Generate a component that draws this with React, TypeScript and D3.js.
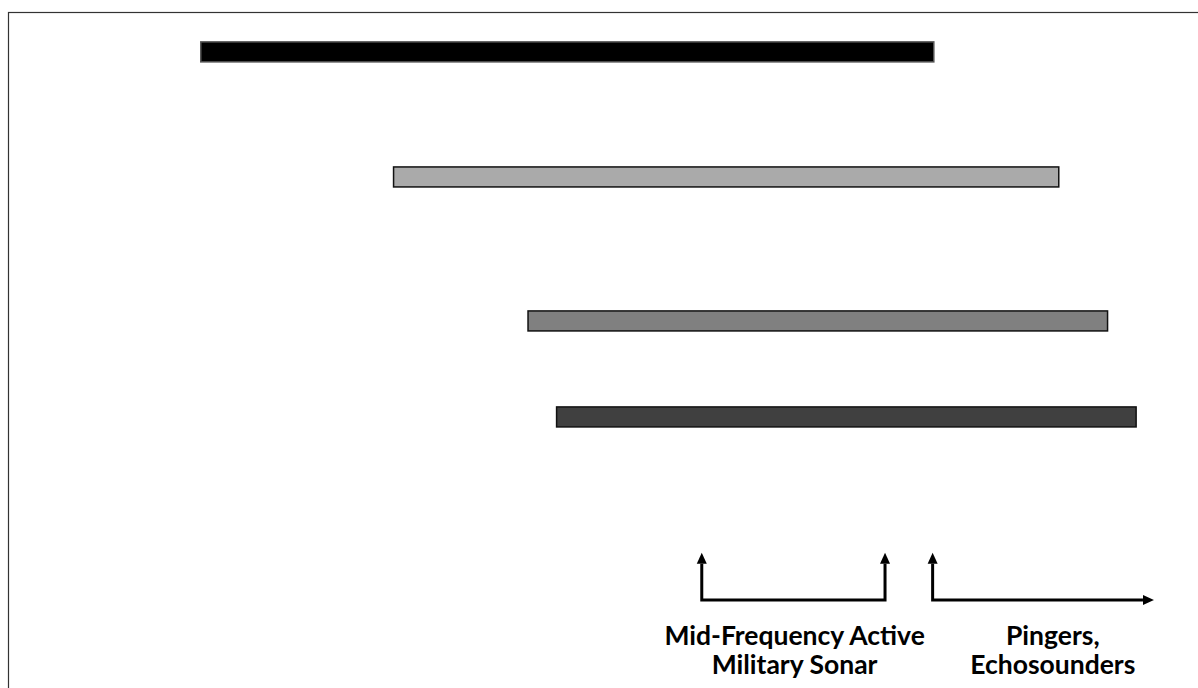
import React from "react";
import * as d3 from "d3";

const W = 1198;
const H = 688;

// Ranges (relative position units on a 0-100 frequency axis)
const bandNames = ["Band A", "Band B", "Band C", "Band D"];
const bandStart = [16.2, 32.4, 43.7, 46.1];
const bandEnd = [77.8, 88.3, 92.4, 94.8];
const bandRow = [5.9, 24.4, 45.7, 59.9];
const bandFill = ["#000000", "#aaaaaa", "#808080", "#404040"];
const bandStroke = ["#555555", "#111111", "#111111", "#111111"];

// Sound source brackets
const sourceNames = ["Mid-Frequency Active|Military Sonar", "Pingers,|Echosounders"];
const sourceStart = [58.3, 77.7];
const sourceEnd = [73.7, 96.3];
const sourceLabelPos = [66.1, 87.8];
const sourceEndArrow = ["up", "right"];
const bracketBase = 87;
const bracketTip = 80;
const labelRow1 = 93.6;
const labelRow2 = 97.9;

const x = d3.scaleLinear().domain([0, 100]).range([8, 1198]);
const y = d3.scaleLinear().domain([0, 100]).range([12, 688]);

export default function App() {
  const barH = 20;
  const ah = 11; // arrow head length
  const aw = 5; // arrow half width
  return (
    <svg
      width={W}
      height={H}
      style={{ position: "absolute", left: 0, top: 0, background: "#fff" }}
      fontFamily="Lato, 'Open Sans', sans-serif"
    >
      <rect x={8.5} y={12.5} width={W + 20} height={H + 20} fill="none" stroke="#333" strokeWidth={1.2} />
      {bandNames.map((n, i) => (
        <rect
          key={n}
          x={x(bandStart[i])}
          y={y(bandRow[i]) - barH / 2}
          width={x(bandEnd[i]) - x(bandStart[i])}
          height={barH}
          fill={bandFill[i]}
          stroke={bandStroke[i]}
          strokeWidth={1.5}
        />
      ))}
      {sourceNames.map((name, i) => {
        const x0 = x(sourceStart[i]);
        const x1 = x(sourceEnd[i]);
        const yb = y(bracketBase);
        const yt = y(bracketTip);
        const lines = name.split("|");
        const cx = x(sourceLabelPos[i]);
        return (
          <g key={name}>
            {sourceEndArrow[i] === "up" ? (
              <>
                <path d={`M${x0},${yt + ah}V${yb}H${x1}V${yt + ah}`} fill="none" stroke="#000" strokeWidth={3} />
                <path d={`M${x0 - aw},${yt + ah}L${x0},${yt}L${x0 + aw},${yt + ah}Z`} fill="#000" />
                <path d={`M${x1 - aw},${yt + ah}L${x1},${yt}L${x1 + aw},${yt + ah}Z`} fill="#000" />
              </>
            ) : (
              <>
                <path d={`M${x0},${yt + ah}V${yb}H${x1 - ah}`} fill="none" stroke="#000" strokeWidth={3} />
                <path d={`M${x0 - aw},${yt + ah}L${x0},${yt}L${x0 + aw},${yt + ah}Z`} fill="#000" />
                <path d={`M${x1 - ah},${yb - aw}L${x1},${yb}L${x1 - ah},${yb + aw}Z`} fill="#000" />
              </>
            )}
            <text x={cx} y={y(labelRow1)} textAnchor="middle" fontWeight="bold" fontSize={26.5} fill="#000">
              {lines[0]}
            </text>
            <text x={cx} y={y(labelRow2)} textAnchor="middle" fontWeight="bold" fontSize={26.5} fill="#000">
              {lines[1]}
            </text>
          </g>
        );
      })}
    </svg>
  );
}
